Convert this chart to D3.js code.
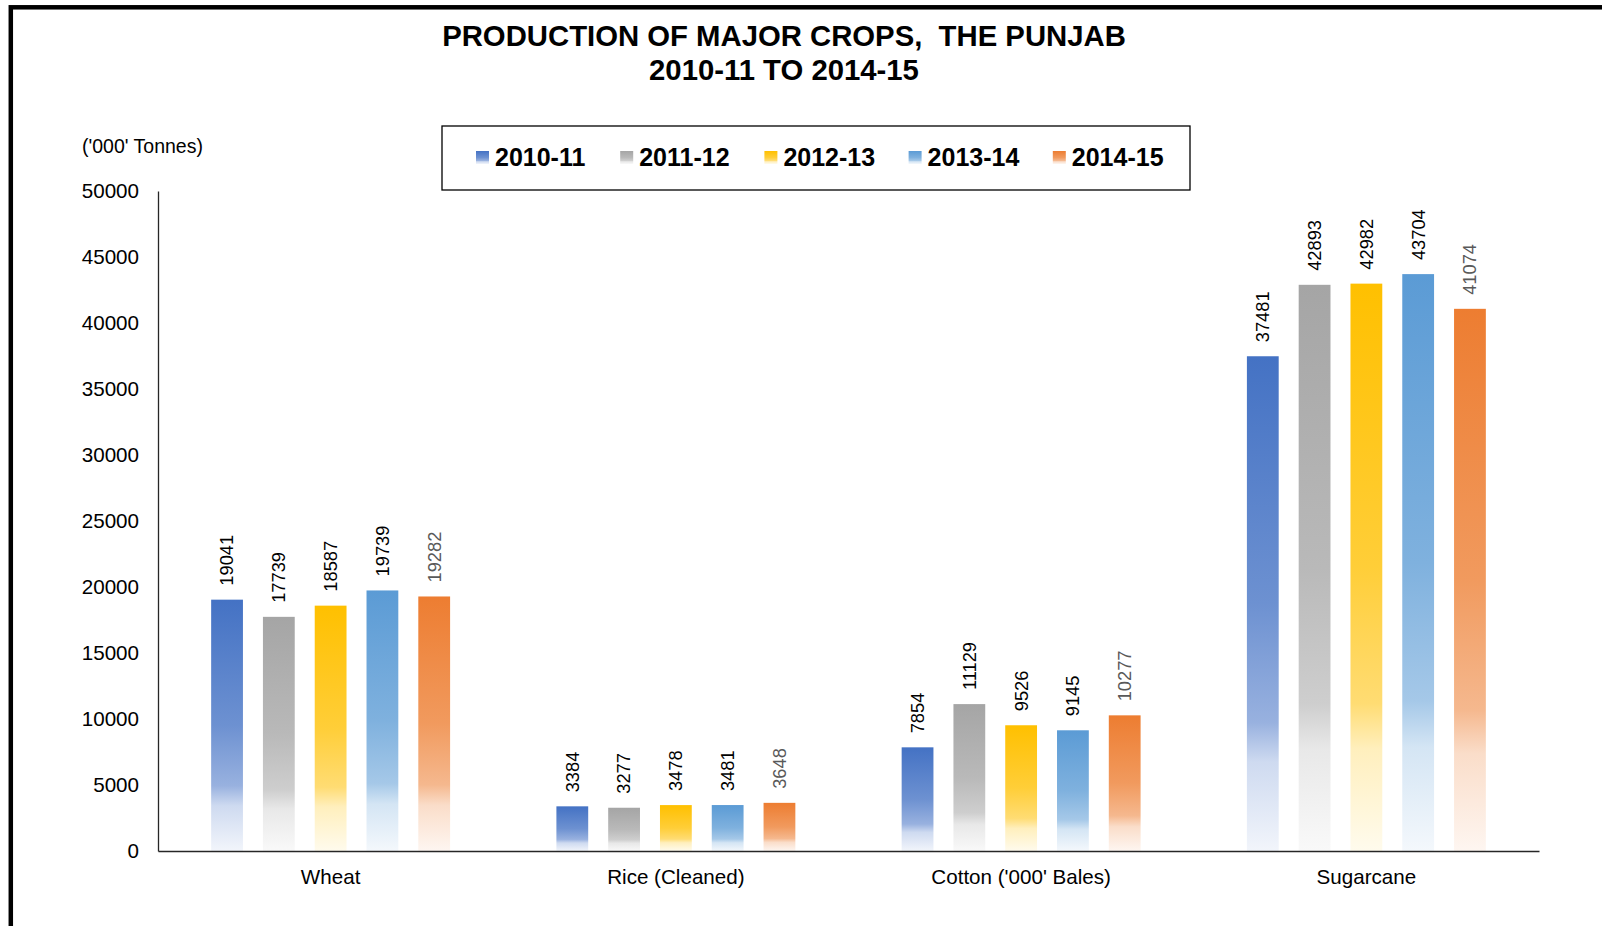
<!DOCTYPE html>
<html>
<head>
<meta charset="utf-8">
<script src="https://cdn.jsdelivr.net/npm/d3@7"></script>
<style>
	body { margin: 0; background: #fff; }
	svg { display: block; font-family: 'Liberation Sans', Arial, sans-serif; }
	.title { font-weight: bold; font-size: 29.3px; white-space: pre; }
	.legend-label { font-weight: bold; font-size: 25px; }
	.axis text { font-size: 20.6px; fill: #000; }
	.bar-label { font-size: 18.3px; }
</style>
</head>
<body>
<script>
	var crops = ['Wheat', 'Rice (Cleaned)', "Cotton ('000' Bales)", 'Sugarcane'];
	var years = ['2010-11', '2011-12', '2012-13', '2013-14', '2014-15'];
	var colors = ['#4472C4', '#A5A5A5', '#FFC000', '#5B9BD5', '#ED7D31'];

	// one array per year, in crop order
	var y2010 = [19041, 3384, 7854, 37481];
	var y2011 = [17739, 3277, 11129, 42893];
	var y2012 = [18587, 3478, 9526, 42982];
	var y2013 = [19739, 3481, 9145, 43704];
	var y2014 = [19282, 3648, 10277, 41074];
	var series = [y2010, y2011, y2012, y2013, y2014];

	var yTicks = [0, 5000, 10000, 15000, 20000, 25000, 30000, 35000, 40000, 45000, 50000];

	var width = 1602, height = 926;
	var plotLeft = 158, plotRight = 1539, plotTop = 191, plotBottom = 851;

	var svg = d3.select('body').append('svg')
		.attr('width', width)
		.attr('height', height);

	// gradients, solid at top fading to white at the bottom
	var defs = svg.append('defs');
	colors.forEach(function (c, i) {
		var g = defs.append('linearGradient')
			.attr('id', 'grad' + i)
			.attr('x1', 0).attr('y1', 0).attr('x2', 0).attr('y2', 1);
		[[0, 0], [0.5, 0.22], [0.74, 0.45], [0.82, 0.74], [1, 0.93]].forEach(function (s) {
			g.append('stop')
				.attr('offset', s[0])
				.attr('stop-color', d3.interpolateRgb(c, '#fff')(s[1]));
		});
	});

	// outer frame
	svg.append('rect')
		.attr('x', 10.8).attr('y', 7.3)
		.attr('width', 2000).attr('height', 2000)
		.attr('fill', 'none')
		.attr('stroke', '#000')
		.attr('stroke-width', 4.5);

	// title
	svg.append('text').attr('class', 'title')
		.attr('x', 784).attr('y', 46)
		.attr('text-anchor', 'middle')
		.text('PRODUCTION OF MAJOR CROPS,  THE PUNJAB');
	svg.append('text').attr('class', 'title')
		.attr('x', 784).attr('y', 80)
		.attr('text-anchor', 'middle')
		.text('2010-11 TO 2014-15');

	// scales
	var x0 = d3.scaleBand()
		.domain(crops)
		.range([plotLeft, plotRight])
		.paddingInner(0.25)
		.paddingOuter(0.125);
	var x1 = d3.scaleBand()
		.domain(d3.range(years.length))
		.range([0, x0.bandwidth()])
		.paddingInner(0.386)
		.paddingOuter(0.193);
	var y = d3.scaleLinear()
		.domain([0, 50000])
		.range([plotBottom, plotTop]);

	// y axis
	var yAxisEl = svg.append('g')
		.attr('class', 'axis')
		.attr('transform', 'translate(' + plotLeft + ',0)')
		.call(d3.axisLeft(y).tickValues(yTicks).tickSize(0).tickPadding(19).tickFormat(d3.format('d')));
	yAxisEl.select('.domain').attr('stroke', '#262626').attr('stroke-width', 1.3);

	svg.append('text')
		.attr('x', 82).attr('y', 153)
		.style('font-size', '19.5px')
		.text("('000' Tonnes)");

	// bars
	var groups = svg.append('g').selectAll('g')
		.data(crops)
		.enter().append('g')
		.attr('transform', function (d) { return 'translate(' + x0(d) + ',0)'; });

	groups.selectAll('rect')
		.data(function (d, ci) { return series.map(function (s, si) { return { si: si, v: s[ci] }; }); })
		.enter().append('rect')
		.attr('x', function (d) { return x1(d.si); })
		.attr('y', function (d) { return y(d.v); })
		.attr('width', x1.bandwidth())
		.attr('height', function (d) { return plotBottom - y(d.v); })
		.attr('fill', function (d) { return 'url(#grad' + d.si + ')'; });

	groups.selectAll('text')
		.data(function (d, ci) { return series.map(function (s, si) { return { si: si, v: s[ci] }; }); })
		.enter().append('text')
		.attr('class', 'bar-label')
		.attr('transform', function (d) {
			return 'translate(' + (x1(d.si) + x1.bandwidth() / 2) + ',' + (y(d.v) - 14) + ') rotate(-90)';
		})
		.attr('dy', '0.35em')
		.attr('fill', function (d) { return d.si === 4 ? '#595959' : '#000'; })
		.text(function (d) { return d.v; });

	// x axis
	var xAxisEl = svg.append('g')
		.attr('class', 'axis')
		.attr('transform', 'translate(0,' + plotBottom + ')')
		.call(d3.axisBottom(x0).tickSize(0).tickPadding(18));
	xAxisEl.select('.domain').attr('stroke', '#262626').attr('stroke-width', 1.6);

	// legend
	var legend = svg.append('g');
	legend.append('rect')
		.attr('x', 442).attr('y', 126)
		.attr('width', 748).attr('height', 64)
		.attr('fill', '#fff')
		.attr('stroke', '#000')
		.attr('stroke-width', 1.3);
	var items = legend.selectAll('g.item')
		.data(years)
		.enter().append('g')
		.attr('class', 'item')
		.attr('transform', function (d, i) { return 'translate(' + (476 + i * 144.2) + ',157)'; });
	items.append('rect')
		.attr('x', 0).attr('y', -6)
		.attr('width', 13).attr('height', 13)
		.attr('fill', function (d, i) { return 'url(#grad' + i + ')'; });
	items.append('text')
		.attr('class', 'legend-label')
		.attr('x', 19)
		.attr('dy', '0.36em')
		.text(function (d) { return d; });
</script>
</body>
</html>
